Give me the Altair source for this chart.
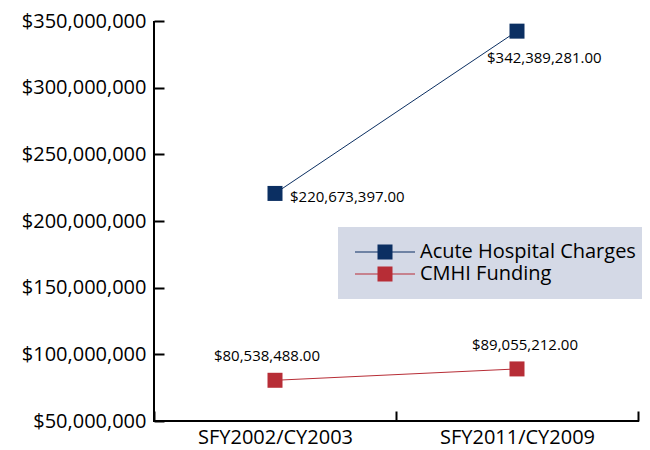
import altair as alt
import pandas as pd

periods = ["SFY2002/CY2003", "SFY2011/CY2009"]
series_names = ["Acute Hospital Charges", "CMHI Funding"]
acute_values = [220673397.00, 342389281.00]
cmhi_values = [80538488.00, 89055212.00]
colors = ["#0b2f62", "#b72d36"]

rows = []
for p, v in zip(periods, acute_values):
    rows.append({"period": p, "series": series_names[0], "value": v})
for p, v in zip(periods, cmhi_values):
    rows.append({"period": p, "series": series_names[1], "value": v})
df = pd.DataFrame(rows)
df["label"] = df["value"].map(lambda v: "${:,.2f}".format(v))

FONT = "Open Sans"
W, H = 484, 400

xscale = alt.Scale(type="band", paddingInner=0, paddingOuter=0, domain=periods)
yscale = alt.Scale(domain=[50000000, 350000000], nice=False, zero=False)
cscale = alt.Scale(domain=series_names, range=colors)

xenc = alt.X("period:N", scale=xscale, sort=periods, title=None,
             axis=alt.Axis(tickBand="extent", offset=-10, domain=False, tickSize=10,
                           tickWidth=2, tickColor="black", labelAngle=0,
                           labelPadding=6, labelFontSize=20, labelFont=FONT,
                           labelColor="black", grid=False))
yenc = alt.Y("value:Q", scale=yscale, title=None,
             axis=alt.Axis(values=[50000000, 100000000, 150000000, 200000000,
                                   250000000, 300000000, 350000000],
                           format="$,.0f", offset=-10, domain=False, tickSize=10,
                           tickWidth=2, tickColor="black", labelPadding=8,
                           labelFontSize=20, labelFont=FONT, labelColor="black",
                           grid=False))

# line segment (4 units each side) with a square (1 unit each side) in the middle
legend_symbol = "M-4,-0.07H4V0.07H-4Z M-1,-1H1V1H-1Z"
color_enc = alt.Color("series:N", scale=cscale, sort=series_names,
                      legend=alt.Legend(title=None, orient="none", legendX=184, legendY=206,
                                        fillColor="#d4d9e6", padding=15,
                                        symbolType=legend_symbol, symbolSize=225,
                                        symbolOffset=22, symbolStrokeWidth=0,
                                        symbolOpacity=1, labelFont=FONT,
                                        labelFontSize=20, labelColor="black",
                                        labelOffset=25, rowPadding=2, labelLimit=400))

base = alt.Chart(df)

lines = base.mark_line(strokeWidth=1).encode(
    x=xenc, y=yenc, color=color_enc, detail="series:N",
)

points = base.mark_point(shape="square", filled=True, size=225, opacity=1).encode(
    x=xenc, y=yenc, color=color_enc,
)

def label_layer(series, period, align, dx, dy):
    return base.transform_filter(
        (alt.datum.series == series) & (alt.datum.period == period)
    ).mark_text(align=align, baseline="middle", dx=dx, dy=dy, font=FONT,
                fontSize=15, color="black").encode(
        x=alt.X("period:N", scale=xscale, sort=periods),
        y=alt.Y("value:Q", scale=yscale),
        text="label:N",
    )

labels = [
    label_layer(series_names[0], periods[0], "left", 15, 4),
    label_layer(series_names[0], periods[1], "left", -30, 27),
    label_layer(series_names[1], periods[0], "center", -8, -24),
    label_layer(series_names[1], periods[1], "center", 8, -24),
]

ydomain = alt.Chart(df).mark_rule(color="black", strokeWidth=2).encode(
    x=alt.value(0), y=alt.value(0), y2=alt.value(H))
xdomain = alt.Chart(df).mark_rule(color="black", strokeWidth=2).encode(
    x=alt.value(-1), x2=alt.value(W + 1), y=alt.value(H))

chart = alt.layer(lines, points, *labels, ydomain, xdomain).properties(
    width=W, height=H,
    padding={"left": 146, "top": 13, "right": 4, "bottom": 28},
    autosize=alt.AutoSizeParams(type="none"),
).configure(font=FONT).configure_view(stroke=None)

chart.save("out.html", embed_options={"renderer": "svg", "actions": False})
